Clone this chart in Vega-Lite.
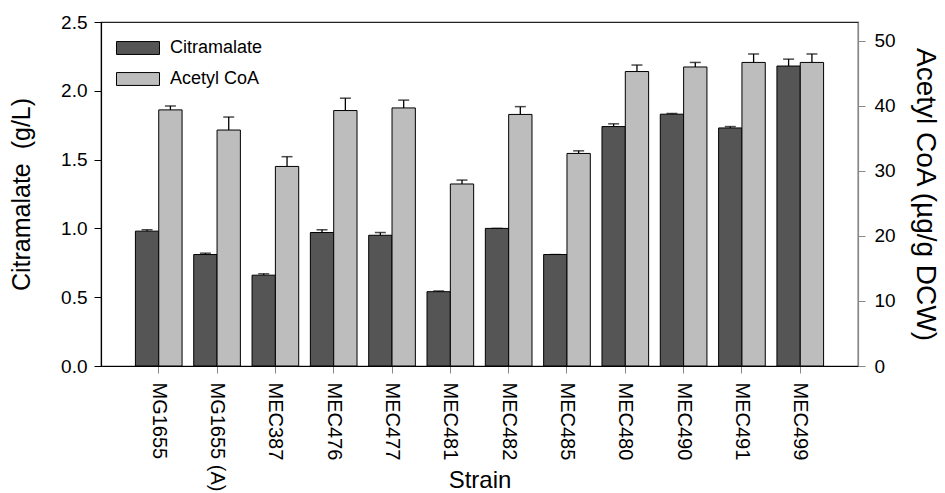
{
  "$schema": "https://vega.github.io/schema/vega-lite/v6.json",
  "autosize": {"type": "none"},
  "width": 757,
  "height": 344,
  "padding": {"left": 101, "top": 22, "right": 87, "bottom": 127},
  "config": {
    "font": "Liberation Sans",
    "view": {"stroke": "#222222", "strokeWidth": 1.2},
    "axis": {"grid": false, "labelColor": "#000000", "titleColor": "#000000", "labelFont": "Liberation Sans", "titleFont": "Liberation Sans", "titleFontWeight": "normal"}
  },
  "data": {
    "values": [
      {"Strain": "MG1655", "Series": "Citramalate", "Value": 0.98, "Upper": 0.99},
      {"Strain": "MG1655 (A)", "Series": "Citramalate", "Value": 0.81, "Upper": 0.82},
      {"Strain": "MEC387", "Series": "Citramalate", "Value": 0.66, "Upper": 0.67},
      {"Strain": "MEC476", "Series": "Citramalate", "Value": 0.97, "Upper": 0.99},
      {"Strain": "MEC477", "Series": "Citramalate", "Value": 0.95, "Upper": 0.97},
      {"Strain": "MEC481", "Series": "Citramalate", "Value": 0.54, "Upper": 0.545},
      {"Strain": "MEC482", "Series": "Citramalate", "Value": 1.0, "Upper": 1.0},
      {"Strain": "MEC485", "Series": "Citramalate", "Value": 0.81, "Upper": 0.81},
      {"Strain": "MEC480", "Series": "Citramalate", "Value": 1.74, "Upper": 1.76},
      {"Strain": "MEC490", "Series": "Citramalate", "Value": 1.83, "Upper": 1.835},
      {"Strain": "MEC491", "Series": "Citramalate", "Value": 1.73, "Upper": 1.74},
      {"Strain": "MEC499", "Series": "Citramalate", "Value": 2.18, "Upper": 2.23},
      {"Strain": "MG1655", "Series": "Acetyl CoA", "Value": 39.4, "Upper": 40.0},
      {"Strain": "MG1655 (A)", "Series": "Acetyl CoA", "Value": 36.3, "Upper": 38.3},
      {"Strain": "MEC387", "Series": "Acetyl CoA", "Value": 30.7, "Upper": 32.2},
      {"Strain": "MEC476", "Series": "Acetyl CoA", "Value": 39.3, "Upper": 41.2},
      {"Strain": "MEC477", "Series": "Acetyl CoA", "Value": 39.7, "Upper": 40.9},
      {"Strain": "MEC481", "Series": "Acetyl CoA", "Value": 28.0, "Upper": 28.6},
      {"Strain": "MEC482", "Series": "Acetyl CoA", "Value": 38.7, "Upper": 39.9},
      {"Strain": "MEC485", "Series": "Acetyl CoA", "Value": 32.7, "Upper": 33.1},
      {"Strain": "MEC480", "Series": "Acetyl CoA", "Value": 45.3, "Upper": 46.3},
      {"Strain": "MEC490", "Series": "Acetyl CoA", "Value": 46.0, "Upper": 46.7},
      {"Strain": "MEC491", "Series": "Acetyl CoA", "Value": 46.7, "Upper": 48.0},
      {"Strain": "MEC499", "Series": "Acetyl CoA", "Value": 46.7, "Upper": 48.0}
    ]
  },
  "encoding": {
    "x": {
      "field": "Strain",
      "type": "nominal",
      "sort": null,
      "scale": {"paddingInner": 0.2, "paddingOuter": 0.59},
      "axis": {
        "title": "Strain",
        "titleFontSize": 24,
        "titleBaseline": "alphabetic",
        "titleY": 121,
        "labelAngle": 90,
        "labelFontSize": 20,
        "labelPadding": 9,
        "tickSize": 7,
        "tickColor": "#888888",
        "domainColor": "#000000",
        "domainWidth": 1.2
      }
    },
    "xOffset": {"field": "Series", "type": "nominal", "sort": ["Citramalate", "Acetyl CoA"], "scale": {"domain": ["Citramalate", "Acetyl CoA"], "paddingInner": 0, "paddingOuter": 0}}
  },
  "layer": [
    {
      "transform": [{"filter": "datum.Series === 'Citramalate'"}],
      "encoding": {
        "y": {
          "field": "Value",
          "type": "quantitative",
          "scale": {"domain": [0, 2.5], "nice": false, "zero": true},
          "axis": {
            "title": "Citramalate\u00a0 (g/L)",
            "titleFontSize": 25,
            "titlePadding": 26,
            "values": [0, 0.5, 1, 1.5, 2, 2.5],
            "format": ".1f",
            "labelFontSize": 19,
            "labelPadding": 7,
            "tickSize": 7,
            "tickColor": "#000000",
            "domainColor": "#000000",
            "domainWidth": 1.2
          }
        }
      },
      "layer": [
        {
          "mark": {"type": "rule", "color": "#000000", "strokeWidth": 1.3},
          "encoding": {"y2": {"field": "Upper"}}
        },
        {
          "mark": {"type": "tick", "color": "#000000", "size": 11, "thickness": 1.5},
          "encoding": {"y": {"field": "Upper", "type": "quantitative"}}
        },
        {
          "mark": {"type": "bar", "stroke": "#000000", "strokeWidth": 1},
          "encoding": {
            "color": {
              "field": "Series",
              "type": "nominal",
              "scale": {"domain": ["Citramalate", "Acetyl CoA"], "range": ["#555555", "#bdbdbd"]},
              "legend": {
                "title": null,
                "orient": "none",
                "legendX": 15,
                "legendY": 4,
                "symbolType": "M-1,-0.3H1V0.3H-1Z",
                "symbolSize": 1849,
                "symbolStrokeColor": "#000000",
                "symbolStrokeWidth": 1,
                "labelFontSize": 18,
                "labelOffset": 10,
                "rowPadding": -3,
                "labelColor": "#000000"
              }
            }
          }
        }
      ]
    },
    {
      "transform": [{"filter": "datum.Series === 'Acetyl CoA'"}],
      "encoding": {
        "y": {
          "field": "Value",
          "type": "quantitative",
          "scale": {"domain": [0, 52.92], "nice": false, "zero": true},
          "axis": {
            "orient": "right",
            "title": "Acetyl CoA (µg/g DCW)",
            "titleFontSize": 28,
            "titlePadding": 15,
            "values": [0, 10, 20, 30, 40, 50],
            "labelFontSize": 19,
            "labelPadding": 9,
            "tickSize": 7,
            "tickColor": "#888888",
            "domainColor": "#888888",
            "domainWidth": 1.2
          }
        }
      },
      "layer": [
        {
          "mark": {"type": "rule", "color": "#000000", "strokeWidth": 1.3},
          "encoding": {"y2": {"field": "Upper"}}
        },
        {
          "mark": {"type": "tick", "color": "#000000", "size": 11, "thickness": 1.5},
          "encoding": {"y": {"field": "Upper", "type": "quantitative"}}
        },
        {
          "mark": {"type": "bar", "stroke": "#000000", "strokeWidth": 1},
          "encoding": {
            "color": {"field": "Series", "type": "nominal"}
          }
        }
      ]
    }
  ],
  "resolve": {"scale": {"y": "independent"}}
}
